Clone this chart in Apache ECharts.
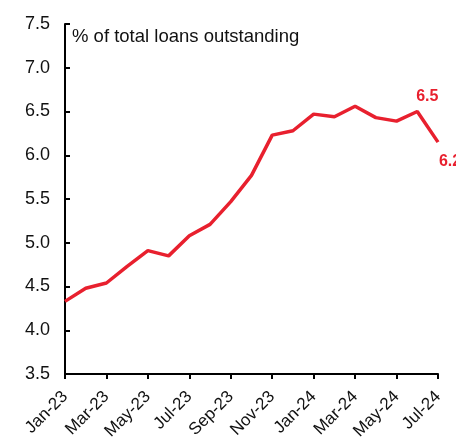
<!DOCTYPE html>
<html><head><meta charset="utf-8">
<script src="https://cdn.jsdelivr.net/npm/echarts@6/dist/echarts.min.js"></script>
<style>html,body{margin:0;padding:0;background:#fff}#c{width:456px;height:438px}</style>
</head><body><div id="c"></div>
<script>
const categories = ['Jan-23','Feb-23','Mar-23','Apr-23','May-23','Jun-23','Jul-23','Aug-23','Sep-23','Oct-23','Nov-23','Dec-23','Jan-24','Feb-24','Mar-24','Apr-24','May-24','Jun-24','Jul-24'];
const values = [4.33, 4.48, 4.54, 4.73, 4.91, 4.85, 5.08, 5.21, 5.47, 5.77, 6.23, 6.28, 6.47, 6.44, 6.56, 6.43, 6.39, 6.50, 6.15];
const labelled = {17: '6.5', 18: '6.2'};
const yTitle = '% of total loans outstanding';

const red = '#e8202e';
const font = 'Liberation Sans, Arial, sans-serif';
const data = values.map((v, i) => {
  const d = {value: v};
  if (i === 17) d.label = {show: true, position: 'top', formatter: labelled[17]};
  if (i === 18) d.label = {show: true, position: 'bottom', formatter: labelled[18]};
  return d;
});
const chart = echarts.init(document.getElementById('c'), null, {renderer: 'canvas'});
chart.setOption({
  animation: false,
  grid: {left: 65, right: 18, top: 24, bottom: 64, containLabel: false, outerBoundsMode: 'none'},
  xAxis: {
    type: 'category', data: categories, boundaryGap: false,
    axisLine: {lineStyle: {color: '#000', width: 2}},
    axisTick: {show: true, interval: 1, length: 5, lineStyle: {color: '#000', width: 2}},
    axisLabel: {interval: 1, rotate: 45, color: '#111', fontSize: 17, fontFamily: font, margin: 20},
    splitLine: {show: false}
  },
  yAxis: {
    type: 'value', min: 3.5, max: 7.5, interval: 0.5,
    axisLine: {show: true, lineStyle: {color: '#000', width: 2}},
    axisTick: {show: true, inside: true, length: 5, lineStyle: {color: '#000', width: 2}},
    axisLabel: {color: '#111', fontSize: 18, fontFamily: font, margin: 15, formatter: v => v.toFixed(1)},
    splitLine: {show: false}
  },
  graphic: [{type: 'text', left: 72, top: 27, style: {text: yTitle, fill: '#111', font: '18.5px ' + font}}],
  series: [{
    type: 'line', data: data, symbol: 'circle', symbolSize: 0.1, showSymbol: true,
    lineStyle: {color: red, width: 3.5}, itemStyle: {color: red},
    label: {color: red, fontWeight: 'bold', fontSize: 16, fontFamily: font},
    labelLayout: function (p) {
      if (p.dataIndex === 17) return {dx: 10, dy: -2, hideOverlap: false};
      if (p.dataIndex === 18) return {dx: 12, dy: 6, hideOverlap: false};
      return {};
    }
  }]
});
</script></body></html>
